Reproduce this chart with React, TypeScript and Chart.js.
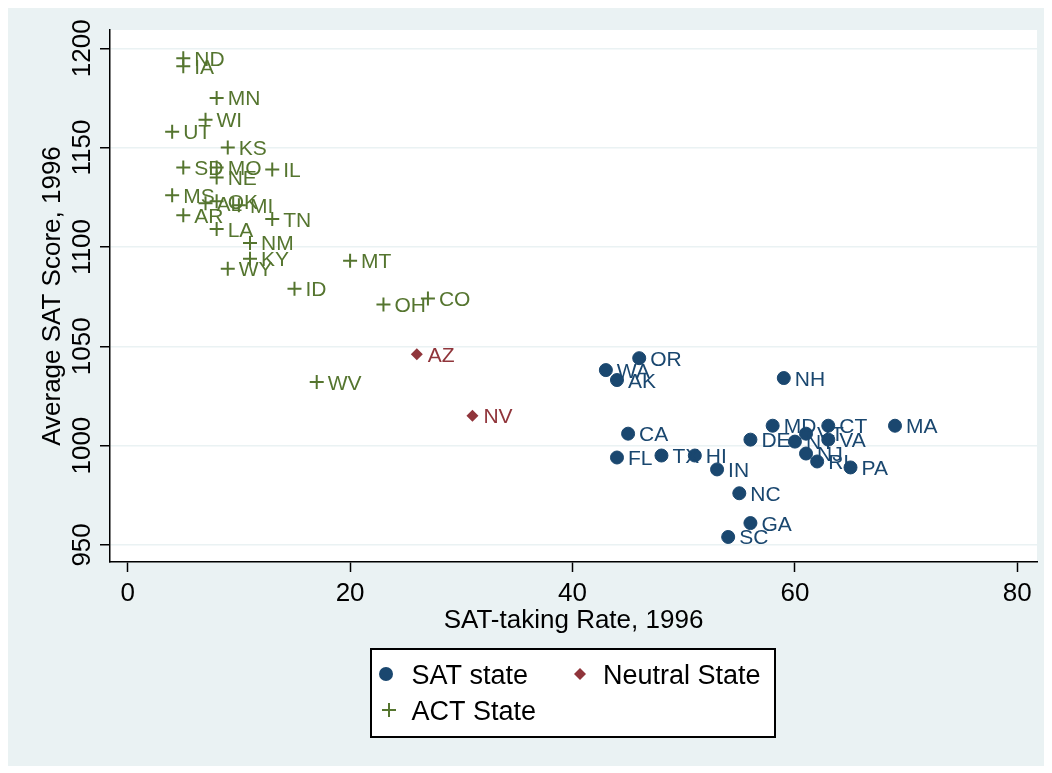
import React, { useEffect, useRef } from "react";
import { Chart, registerables } from "chart.js";

Chart.register(...registerables);

// ---------- data ----------
const satStates = ["OR", "WA", "AK", "CA", "FL", "TX", "HI", "IN", "DE", "NC", "GA", "SC", "MD", "CT", "MA", "NY", "VT", "VA", "NJ", "RI", "PA", "NH"];
const satRate = [46, 43, 44, 45, 44, 48, 51, 53, 56, 55, 56, 54, 58, 63, 69, 60, 61, 63, 61, 62, 65, 59];
const satScore = [1044, 1038, 1033, 1006, 994, 995, 995, 988, 1003, 976, 961, 954, 1010, 1010, 1010, 1002, 1006, 1003, 996, 992, 989, 1034];

const neutralStates = ["AZ", "NV"];
const neutralRate = [26, 31];
const neutralScore = [1046, 1015];

const actStates = ["ND", "IA", "MN", "WI", "UT", "KS", "SD", "MO", "NE", "IL", "MS", "AL", "OK", "MI", "AR", "TN", "LA", "NM", "KY", "WY", "MT", "ID", "OH", "CO", "WV"];
const actRate = [5, 5, 8, 7, 4, 9, 5, 8, 8, 13, 4, 7, 8, 10, 5, 13, 8, 11, 11, 9, 20, 15, 23, 27, 17];
const actScore = [1195, 1191, 1175, 1164, 1158, 1150, 1140, 1140, 1135, 1139, 1126, 1122, 1123, 1121, 1116, 1114, 1109, 1102, 1094, 1089, 1093, 1079, 1071, 1074, 1032];

const xTicks = [0, 20, 40, 60, 80];
const yTicks = [950, 1000, 1050, 1100, 1150, 1200];

const xTitle = "SAT-taking Rate, 1996";
const yTitle = "Average SAT Score, 1996";

// ---------- style ----------
const NAVY = "#1A476F";
const MAROON = "#90353B";
const GREEN = "#55752F";
const BG = "#EAF2F3";
const FONT = '"Liberation Sans", Arial, sans-serif';

const W = 1038;
const H = 758;

function drawMarker(ctx: CanvasRenderingContext2D, style: string, x: number, y: number, color: string) {
  ctx.save();
  ctx.fillStyle = color;
  ctx.strokeStyle = color;
  if (style === "circle") {
    ctx.beginPath();
    ctx.arc(x, y, 7, 0, Math.PI * 2);
    ctx.fill();
  } else if (style === "rectRot") {
    ctx.beginPath();
    ctx.moveTo(x, y - 6);
    ctx.lineTo(x + 6, y);
    ctx.lineTo(x, y + 6);
    ctx.lineTo(x - 6, y);
    ctx.closePath();
    ctx.fill();
  } else {
    ctx.lineWidth = 2;
    ctx.beginPath();
    ctx.moveTo(x - 7, y);
    ctx.lineTo(x + 7, y);
    ctx.moveTo(x, y - 7);
    ctx.lineTo(x, y + 7);
    ctx.stroke();
  }
  ctx.restore();
}

const bgPlugin = {
  id: "bgPlugin",
  beforeDraw(chart: any) {
    const { ctx, chartArea } = chart;
    ctx.save();
    ctx.fillStyle = BG;
    ctx.fillRect(0, 0, chart.width, chart.height);
    ctx.fillStyle = "#FFFFFF";
    ctx.fillRect(chartArea.left, chartArea.top, chartArea.right - chartArea.left, chartArea.bottom - chartArea.top);
    ctx.restore();
  },
};

const pointLabelPlugin = {
  id: "pointLabelPlugin",
  afterDatasetsDraw(chart: any) {
    const { ctx } = chart;
    ctx.save();
    ctx.font = `21px ${FONT}`;
    ctx.textAlign = "left";
    ctx.textBaseline = "alphabetic";
    chart.data.datasets.forEach((ds: any, di: number) => {
      const meta = chart.getDatasetMeta(di);
      ctx.fillStyle = ds.borderColor;
      meta.data.forEach((el: any, i: number) => {
        ctx.fillText(ds.stateLabels[i], el.x + 11, el.y + 7.5);
      });
    });
    ctx.restore();
  },
};

const axisTextPlugin = {
  id: "axisTextPlugin",
  afterDraw(chart: any) {
    const { ctx, chartArea } = chart;
    const xs = chart.scales.x;
    const ys = chart.scales.y;
    ctx.save();
    ctx.fillStyle = "#000";
    ctx.font = `26px ${FONT}`;
    ctx.textAlign = "center";
    ctx.textBaseline = "alphabetic";
    xs.ticks.forEach((t: any) => {
      ctx.fillText(String(t.value), xs.getPixelForValue(t.value), 592.5);
    });
    ys.ticks.forEach((t: any) => {
      ctx.save();
      ctx.translate(81.5, ys.getPixelForValue(t.value));
      ctx.rotate(-Math.PI / 2);
      ctx.fillText(String(t.value), 0, 0);
      ctx.restore();
    });
    ctx.font = `26px ${FONT}`;
    ctx.fillText(xTitle, (chartArea.left + chartArea.right) / 2, 620.3);
    ctx.save();
    ctx.translate(52, (chartArea.top + chartArea.bottom) / 2);
    ctx.rotate(-Math.PI / 2);
    ctx.fillText(yTitle, 0, 0);
    ctx.restore();
    ctx.restore();
  },
};

const legendPlugin = {
  id: "legendPlugin",
  afterDraw(chart: any) {
    const { ctx } = chart;
    const box = { l: 363, t: 641, r: 767, b: 729 };
    ctx.save();
    ctx.fillStyle = "#FFFFFF";
    ctx.fillRect(box.l, box.t, box.r - box.l, box.b - box.t);
    ctx.strokeStyle = "#000";
    ctx.lineWidth = 2;
    ctx.strokeRect(box.l, box.t, box.r - box.l, box.b - box.t);
    const pos = [
      { mx: 378, my: 666, tx: 403.5 },
      { mx: 572, my: 666, tx: 595 },
      { mx: 381, my: 702, tx: 403.5 },
    ];
    ctx.font = `27px ${FONT}`;
    ctx.textAlign = "left";
    ctx.textBaseline = "alphabetic";
    chart.data.datasets.forEach((ds: any, i: number) => {
      const p = pos[i];
      drawMarker(ctx, ds.pointStyle, p.mx, p.my, ds.borderColor);
      ctx.fillStyle = "#000";
      ctx.fillText(ds.label, p.tx, p.my + 9.7);
    });
    ctx.restore();
  },
};

export default function App() {
  const ref = useRef<HTMLCanvasElement>(null);
  useEffect(() => {
    const canvas = ref.current!;
    const chart = new Chart(canvas, {
      type: "scatter",
      data: {
        datasets: [
          {
            label: "SAT state",
            data: satRate.map((x, i) => ({ x, y: satScore[i] })),
            stateLabels: satStates,
            pointStyle: "circle",
            pointRadius: 6.5,
            pointBorderWidth: 1,
            backgroundColor: NAVY,
            borderColor: NAVY,
          } as any,
          {
            label: "Neutral State",
            data: neutralRate.map((x, i) => ({ x, y: neutralScore[i] })),
            stateLabels: neutralStates,
            pointStyle: "rectRot",
            pointRadius: 6,
            pointBorderWidth: 0,
            backgroundColor: MAROON,
            borderColor: MAROON,
          } as any,
          {
            label: "ACT State",
            data: actRate.map((x, i) => ({ x, y: actScore[i] })),
            stateLabels: actStates,
            pointStyle: "cross",
            pointRadius: 7,
            pointBorderWidth: 2,
            backgroundColor: GREEN,
            borderColor: GREEN,
          } as any,
        ],
      },
      options: {
        responsive: false,
        animation: false,
        devicePixelRatio: 1,
        layout: { padding: { left: 0, right: 9, top: 22, bottom: 124 } },
        plugins: { legend: { display: false }, tooltip: { enabled: false } },
        scales: {
          x: {
            type: "linear",
            min: -1.59,
            max: 81.77,
            afterBuildTicks: (s: any) => {
              s.ticks = xTicks.map((v) => ({ value: v }));
            },
            afterFit: (s: any) => {
              s.height = 80;
            },
            grid: { drawOnChartArea: false, drawTicks: true, tickLength: 10, tickColor: "#000", tickWidth: 1.5 },
            border: { display: true, color: "#000", width: 1.5 },
            ticks: { display: false },
          },
          y: {
            type: "linear",
            min: 941.4,
            max: 1209.2,
            afterBuildTicks: (s: any) => {
              s.ticks = yTicks.map((v) => ({ value: v }));
            },
            afterFit: (s: any) => {
              s.width = 102;
            },
            grid: { color: BG, lineWidth: 1.5, drawTicks: true, tickLength: 10, tickColor: "#000", tickWidth: 1.5 },
            border: { display: true, color: "#000", width: 1.5 },
            ticks: { display: false },
          },
        },
      } as any,
      plugins: [bgPlugin, pointLabelPlugin, axisTextPlugin, legendPlugin],
    });
    return () => chart.destroy();
  }, []);
  return <canvas ref={ref} width={W} height={H} style={{ display: "block", width: W, height: H }} />;
}
